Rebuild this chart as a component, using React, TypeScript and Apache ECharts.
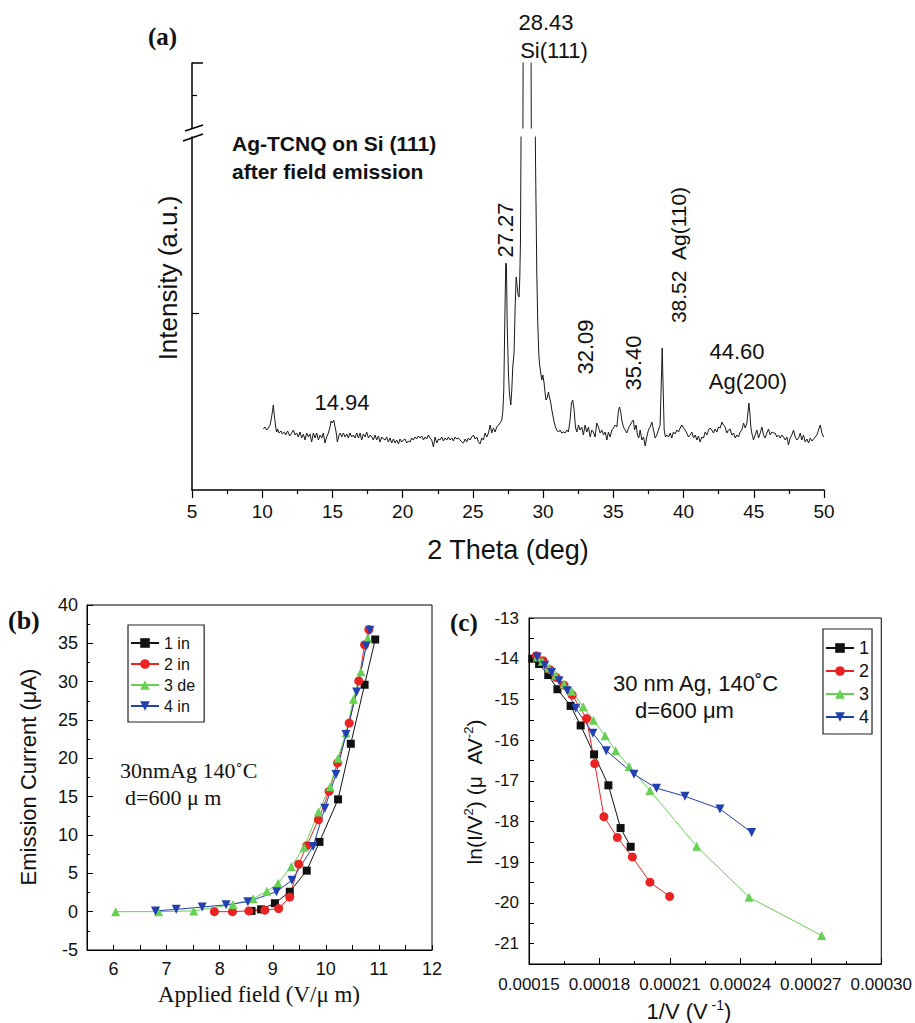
import React, { useEffect, useRef } from 'react';
import * as echarts from 'echarts';

// ---------- Panel (a): XRD pattern, [2θ (deg), intensity (a.u.)] ----------
const xrdLowAngle: [number, number][] = [
  [10.08,61],[10.20,63],[10.32,60],[10.44,62],[10.56,65],[10.67,73],[10.79,85],[10.86,75],[10.96,63],[11.03,58],
  [11.10,61],[11.20,57],[11.34,59],[11.43,56],[11.58,58],[11.67,55],[11.81,59],[11.96,54],[12.10,57],[12.22,60],
  [12.34,55],[12.45,57],[12.57,53],[12.69,58],[12.81,52],[12.93,56],[13.05,50],[13.17,57],[13.29,53],[13.40,56],
  [13.52,48],[13.64,57],[13.76,52],[13.88,57],[14.00,50],[14.12,55],[14.24,52],[14.35,57],[14.47,47],[14.59,53],
  [14.71,57],[14.83,63],[14.90,69],[14.99,67],[15.09,70],[15.19,63],[15.26,58],[15.35,48],[15.47,55],[15.56,57],
  [15.66,53],[15.78,57],[15.90,53],[16.02,56],[16.13,52],[16.25,57],[16.37,53],[16.49,55],[16.61,52],[16.73,57],
  [16.85,52],[16.97,57],[17.08,50],[17.20,56],[17.32,53],[17.44,58],[17.56,52],[17.68,55],[17.80,53],[17.91,50],
  [18.03,55],[18.15,50],[18.27,54],[18.39,48],[18.51,53],[18.63,51],[18.75,50],[18.86,53],[18.98,48],[19.10,52],
  [19.22,47],[19.34,51],[19.46,47],[19.58,50],[19.70,46],[19.81,51],[19.93,48],[20.05,50],
];
const xrdMidAngle: [number, number][] = [
  [20.17,51],[20.29,47],[20.41,49],[20.53,48],[20.65,52],[20.76,50],[20.88,53],[21.00,51],[21.12,54],[21.24,52],
  [21.36,54],[21.48,50],[21.60,53],[21.71,51],[21.83,55],[21.95,52],[22.07,50],[22.19,43],[22.31,53],[22.43,47],
  [22.55,51],[22.66,50],[22.78,53],[22.90,49],[23.02,52],[23.14,50],[23.26,53],[23.38,50],[23.50,52],[23.61,49],
  [23.73,53],[23.85,51],[23.97,52],[24.09,50],[24.21,48],[24.33,47],[24.45,51],[24.56,48],[24.68,52],[24.80,50],
  [24.92,53],[25.04,55],[25.16,51],[25.28,53],[25.39,48],[25.51,46],[25.63,52],[25.75,50],[25.87,57],[25.99,53],
  [26.11,57],[26.23,65],[26.34,57],[26.46,62],[26.58,58],[26.70,63],[26.82,65],[26.94,67],[27.06,70],
];
const xrdSiRegion: [number, number][] = [
  [27.13,78],[27.20,100],[27.27,167],[27.34,227],[27.39,225],[27.44,167],[27.53,117],[27.60,97],[27.70,85],[27.77,100],
  [27.84,123],[27.93,137],[28.01,183],[28.08,213],[28.12,208],[28.22,195],[28.29,193],[28.34,213],[28.39,250],[28.42,330],
  [28.45,400],[28.56,550],[28.58,1000],[29.14,1000],[29.16,550],[29.42,400],[29.46,330],[29.55,217],[29.62,167],[29.69,137],
  [29.74,127],[29.83,117],[29.91,110],[29.98,115],[30.07,107],[30.14,97],[30.21,90],[30.31,93],[30.38,98],[30.45,93],
  [30.55,87],[30.62,80],[30.69,75],[30.78,68],[30.88,63],[30.97,60],[31.09,58],[31.21,60],[31.33,57],[31.45,58],
  [31.57,57],[31.69,60],[31.80,58],[31.92,70],[32.02,87],[32.11,90],[32.21,80],[32.30,63],[32.40,58],[32.52,65],
  [32.63,60],[32.75,63],[32.87,55],[32.99,65],[33.11,58],[33.23,63],[33.35,53],[33.47,60],[33.58,58],[33.70,53],
  [33.82,67],[33.94,63],[34.06,57],[34.18,60],[34.30,55],[34.42,58],[34.54,50],
];
const xrdAg110Region: [number, number][] = [
  [34.65,58],[34.77,53],[34.89,60],[35.01,62],[35.13,65],[35.25,63],[35.37,80],[35.44,83],[35.53,78],[35.60,70],
  [35.72,63],[35.84,60],[35.96,57],[36.08,62],[36.20,65],[36.32,68],[36.43,70],[36.51,60],[36.62,65],[36.72,55],
  [36.81,52],[36.91,60],[37.03,50],[37.15,53],[37.27,44],[37.38,53],[37.50,60],[37.62,63],[37.74,68],[37.86,60],
  [37.98,52],[38.10,55],[38.21,60],[38.33,65],[38.40,100],[38.48,142],[38.55,100],[38.62,60],[38.71,53],[38.81,55],
  [38.93,53],[39.05,57],[39.16,52],[39.28,58],[39.40,56],[39.52,60],[39.64,58],[39.76,62],[39.88,65],[40.00,62],
  [40.11,60],[40.23,57],[40.35,53],[40.47,55],[40.59,58],[40.71,52],[40.83,55],[40.95,50],[41.06,54],[41.18,48],
  [41.30,53],[41.42,52],[41.54,58],[41.66,55],[41.78,60],[41.89,62],
];
const xrdAg200Region: [number, number][] = [
  [42.01,60],[42.13,57],[42.25,61],[42.37,58],[42.49,63],[42.61,62],[42.73,68],[42.84,65],[42.96,63],[43.08,57],
  [43.20,60],[43.32,61],[43.44,55],[43.56,57],[43.68,52],[43.79,55],[43.91,53],[44.03,58],[44.15,60],[44.27,67],
  [44.39,62],[44.51,67],[44.58,77],[44.65,87],[44.72,77],[44.79,63],[44.86,57],[44.98,50],[45.10,55],[45.22,60],
  [45.34,52],[45.46,57],[45.58,63],[45.69,55],[45.81,52],[45.93,57],[46.05,61],[46.17,55],[46.29,58],[46.41,57],
  [46.52,57],[46.64,53],[46.76,55],[46.88,52],[47.00,55],[47.12,53],[47.24,50],[47.36,53],[47.47,45],[47.59,52],
  [47.71,55],[47.83,60],[47.95,53],[48.07,50],[48.19,52],[48.31,57],[48.42,50],[48.54,55],[48.66,48],[48.78,51],
  [48.90,47],[49.02,52],[49.14,49],[49.26,51],[49.37,53],[49.49,55],[49.61,60],[49.73,65],[49.85,57],[49.97,53],
];
const xrdPattern = [...xrdLowAngle, ...xrdMidAngle, ...xrdSiRegion, ...xrdAg110Region, ...xrdAg200Region];

// ---------- Panel (b): emission current vs applied field ----------
const field1 = [8.6, 8.78, 9.04, 9.32, 9.64, 9.88, 10.23, 10.47, 10.73, 10.93];
const current1 = [0.1, 0.3, 1.1, 2.6, 5.35, 9.1, 14.65, 21.9, 29.6, 35.5];
const field2 = [7.9, 8.24, 8.55, 8.85, 9.11, 9.32, 9.49, 9.64, 9.86, 10.06, 10.22, 10.44, 10.62, 10.73, 10.81];
const current2 = [0, 0, 0.1, 0.2, 0.4, 1.9, 6.2, 8.6, 12.0, 15.7, 19.4, 24.6, 30.1, 34.8, 36.8];
const field3 = [6.04, 6.85, 7.51, 8.25, 8.63, 8.89, 9.1, 9.35, 9.59, 9.86, 10.08, 10.23, 10.38, 10.52, 10.66, 10.79];
const current3 = [0, 0, 0.1, 0.95, 1.7, 2.65, 3.7, 5.9, 8.4, 13.0, 16.3, 20.0, 23.3, 27.7, 31.3, 35.65];
const field4 = [6.79, 7.18, 7.67, 8.12, 8.53, 9.07, 9.36, 9.76, 9.98, 10.19, 10.38, 10.58, 10.76, 10.83];
const current4 = [0.1, 0.3, 0.6, 0.9, 1.3, 2.6, 4.1, 8.5, 13.5, 17.9, 23.1, 28.65, 34.65, 36.7];
const legendB = ['1 in', '2 in', '3 de', '4 in'];

// ---------- Panel (c): Fowler–Nordheim plot ----------
const invV1 = [0.0001514, 0.0001543, 0.0001582, 0.0001621, 0.0001677, 0.000172, 0.0001777, 0.0001838, 0.000189, 0.0001933];
const lnIV1 = [-14.0, -14.13, -14.4, -14.75, -15.16, -15.64, -16.35, -17.11, -18.16, -18.62];
const invV2 = [0.0001531, 0.000156, 0.0001589, 0.0001616, 0.0001649, 0.0001684, 0.0001745, 0.000178, 0.0001819, 0.0001876, 0.000194, 0.0002015, 0.0002099];
const lnIV2 = [-13.93, -14.05, -14.27, -14.46, -14.65, -14.89, -15.47, -16.58, -17.88, -18.39, -18.87, -19.49, -19.84];
const invV3 = [0.0001535, 0.0001557, 0.0001585, 0.0001614, 0.0001649, 0.0001682, 0.0001731, 0.0001774, 0.0001824, 0.0001869, 0.0001926, 0.0002015, 0.0002214, 0.0002437, 0.0002746];
const lnIV3 = [-13.96, -14.06, -14.23, -14.4, -14.62, -14.8, -15.18, -15.51, -15.89, -16.26, -16.65, -17.24, -18.61, -19.86, -20.8];
const invV4 = [0.0001535, 0.0001567, 0.0001596, 0.0001628, 0.0001663, 0.0001699, 0.0001772, 0.0001829, 0.0001947, 0.0002043, 0.0002164, 0.0002313, 0.0002448];
const lnIV4 = [-13.96, -14.16, -14.34, -14.54, -14.79, -15.22, -15.83, -16.26, -16.84, -17.18, -17.38, -17.69, -18.27];
const legendC = ['1', '2', '3', '4'];

const COLORS = ['#111111', '#ea2222', '#66d152', '#2240b0'];
const SYMBOLS = ['rect', 'circle', 'triangle', 'triangle'];
const ROTATE = [0, 0, 0, 180];

const SANS = '"Liberation Sans", Arial, Helvetica, sans-serif';
const SERIF = '"Liberation Serif", "Times New Roman", serif';

const zip = (a: number[], b: number[]) => a.map((v, i) => [v, b[i]]);

function txt(text: string, x: number, y: number, font: string, align = 'center', rot = 0, fill = '#111') {
  return {
    type: 'text', x, y, rotation: rot, silent: true,
    style: { text, font, fill, align, verticalAlign: 'middle', textAlign: align, textVerticalAlign: 'middle' },
  };
}

function supText(text: string, x: number, y: number, size: number, rot = 0) {
  return {
    type: 'text', x, y, rotation: rot, silent: true,
    style: {
      text, fill: '#111', align: 'center', verticalAlign: 'middle', textAlign: 'center', textVerticalAlign: 'middle',
      font: `${size}px ${SANS}`,
      rich: {
        n: { fontSize: size, lineHeight: size + 4, fontFamily: SANS, fill: '#111' },
        s: { fontSize: Math.round(size * 0.62), lineHeight: size + 4, verticalAlign: 'top', fontFamily: SANS, fill: '#111' },
      },
    },
  };
}

const blk = { color: '#000', width: 1 };

export default function App() {
  const ref = useRef<HTMLDivElement>(null);
  useEffect(() => {
    const chart = echarts.init(ref.current!, null, { renderer: 'svg' });
    const bData = [zip(field1, current1), zip(field2, current2), zip(field3, current3), zip(field4, current4)];
    const cData = [zip(invV1, lnIV1), zip(invV2, lnIV2), zip(invV3, lnIV3), zip(invV4, lnIV4)];
    const option: any = {
      animation: false,
      backgroundColor: '#fff',
      grid: [
        { left: 192, top: 137, width: 632, height: 353 },
        { left: 192, top: 63, width: 632, height: 65 },
        { left: 87, top: 605, width: 345, height: 345, show: true, borderColor: '#000', borderWidth: 1, backgroundColor: 'transparent' },
        { left: 529, top: 618, width: 353, height: 346, show: true, borderColor: '#000', borderWidth: 1, backgroundColor: 'transparent' },
      ],
      xAxis: [
        {
          gridIndex: 0, type: 'value', min: 5, max: 50, interval: 5,
          axisLine: { onZero: false, lineStyle: { color: '#000', width: 1.5 } },
          axisTick: { inside: false, length: 8, lineStyle: { color: '#000', width: 1.2 } },
          minorTick: { show: true, splitNumber: 2, length: 4, lineStyle: { color: '#000', width: 1.2 } },
          axisLabel: { color: '#111', fontSize: 19, margin: 12, fontFamily: SANS },
          splitLine: { show: false },
        },
        { gridIndex: 1, type: 'value', min: 5, max: 50, show: false },
        {
          gridIndex: 2, type: 'value', min: 5.5, max: 12, interval: 0.5,
          axisLine: { onZero: false, lineStyle: blk },
          axisTick: { inside: true, length: 5, lineStyle: blk },
          axisLabel: {
            color: '#111', fontSize: 18, margin: 10, fontFamily: SANS,
            formatter: (v: number) => (Math.abs(v - Math.round(v)) < 1e-6 ? String(Math.round(v)) : ''),
          },
          splitLine: { show: false },
        },
        {
          gridIndex: 3, type: 'value', min: 0.00015, max: 0.0003, interval: 0.00003,
          axisLine: { onZero: false, lineStyle: blk },
          axisTick: { inside: true, length: 6, lineStyle: blk },
          minorTick: { show: true, splitNumber: 2, length: 3, lineStyle: blk },
          axisLabel: { color: '#111', fontSize: 17, margin: 12, fontFamily: SANS, formatter: (v: number) => v.toFixed(5) },
          splitLine: { show: false },
        },
      ],
      yAxis: [
        {
          gridIndex: 0, type: 'value', min: 0, max: 353,
          axisLine: { show: true, onZero: false, lineStyle: { color: '#000', width: 1.5 } },
          axisTick: { show: true, inside: true, length: 7, customValues: [177], lineStyle: { color: '#000', width: 1.2 } },
          axisLabel: { show: false },
          splitLine: { show: false },
        },
        {
          gridIndex: 1, type: 'value', min: 600, max: 900,
          axisLine: { show: true, onZero: false, lineStyle: { color: '#000', width: 1.5 } },
          axisTick: { show: true, inside: true, length: 5, customValues: [750], lineStyle: { color: '#000', width: 1.2 } },
          axisLabel: { show: false },
          splitLine: { show: false },
        },
        {
          gridIndex: 2, type: 'value', min: -5, max: 40, interval: 5,
          axisLine: { show: true, onZero: false, lineStyle: blk },
          axisTick: { show: true, inside: true, length: 6, lineStyle: blk },
          minorTick: { show: true, splitNumber: 2, length: 3, lineStyle: blk },
          axisLabel: { color: '#111', fontSize: 18, margin: 9, fontFamily: SANS },
          splitLine: { show: false },
        },
        {
          gridIndex: 3, type: 'value', min: -21.5, max: -13, interval: 0.5,
          axisLine: { show: true, onZero: false, lineStyle: blk },
          axisTick: { show: true, inside: true, length: 5, lineStyle: blk },
          axisLabel: {
            color: '#111', fontSize: 17, margin: 10, fontFamily: SANS,
            formatter: (v: number) => (Math.abs(v - Math.round(v)) < 1e-6 ? String(Math.round(v)) : ''),
          },
          splitLine: { show: false },
        },
      ],
      legend: [
        {
          data: legendB, orient: 'vertical', left: 128, top: 625, padding: [10, 9, 8, 2],
          itemWidth: 28, itemHeight: 12, itemGap: 5, selectedMode: false,
          borderColor: '#222', borderWidth: 1.2,
          textStyle: { fontSize: 16, lineHeight: 16, color: '#111', fontFamily: SANS },
        },
        {
          data: legendC, orient: 'vertical', left: 823, top: 629, padding: [10, 3, 8, 2],
          itemWidth: 28, itemHeight: 12, itemGap: 5, selectedMode: false,
          borderColor: '#222', borderWidth: 1.2,
          textStyle: { fontSize: 18, lineHeight: 16, color: '#111', fontFamily: SANS },
        },
      ],
      series: [
        {
          name: 'XRD', type: 'line', xAxisIndex: 0, yAxisIndex: 0, data: xrdPattern, symbol: 'none',
          lineStyle: { color: '#1a1a1a', width: 1 }, clip: true, silent: true,
        },
        {
          name: 'XRD upper', type: 'line', xAxisIndex: 1, yAxisIndex: 1, data: xrdPattern, symbol: 'none',
          lineStyle: { color: '#1a1a1a', width: 1 }, clip: true, silent: true,
        },
        ...legendB.map((name, i) => ({
          name, type: 'line', xAxisIndex: 2, yAxisIndex: 2, data: bData[i],
          symbol: SYMBOLS[i], symbolRotate: ROTATE[i], symbolSize: i === 0 ? 8 : 9,
          itemStyle: { color: COLORS[i] }, lineStyle: { color: COLORS[i], width: 1 }, silent: true,
        })),
        ...legendC.map((name, i) => ({
          name, type: 'line', xAxisIndex: 3, yAxisIndex: 3, data: cData[i],
          symbol: SYMBOLS[i], symbolRotate: ROTATE[i], symbolSize: i === 0 ? 8 : 9,
          itemStyle: { color: COLORS[i] }, lineStyle: { color: COLORS[i], width: 1 }, silent: true,
        })),
      ],
      graphic: [
        // panel (a)
        txt('(a)', 148, 36, `bold 25px ${SERIF}`, 'left'),
        txt('Ag-TCNQ on Si (111)', 232, 143, `bold 21px ${SANS}`, 'left'),
        txt('after field emission', 232, 171, `bold 21px ${SANS}`, 'left'),
        txt('14.94', 342, 402, `22px ${SANS}`),
        txt('28.43', 546, 22, `22px ${SANS}`),
        txt('Si(111)', 554, 50, `22px ${SANS}`),
        txt('27.27', 505, 230, `22px ${SANS}`, 'center', Math.PI / 2),
        txt('32.09', 585, 347, `22px ${SANS}`, 'center', Math.PI / 2),
        txt('35.40', 633, 363, `22px ${SANS}`, 'center', Math.PI / 2),
        txt('38.52  Ag(110)', 678, 255, `21px ${SANS}`, 'center', Math.PI / 2),
        txt('44.60', 737, 351, `22px ${SANS}`),
        txt('Ag(200)', 748, 381, `22px ${SANS}`),
        txt('Intensity (a.u.)', 168, 278, `26px ${SANS}`, 'center', Math.PI / 2),
        txt('2 Theta (deg)', 508, 550, `27px ${SANS}`),
        { type: 'line', silent: true, shape: { x1: 192, y1: 63, x2: 203, y2: 63 }, style: { stroke: '#000', lineWidth: 1.5 } },
        { type: 'line', silent: true, shape: { x1: 185, y1: 131, x2: 203, y2: 125 }, style: { stroke: '#000', lineWidth: 1.5 } },
        { type: 'line', silent: true, shape: { x1: 183, y1: 141, x2: 203, y2: 134 }, style: { stroke: '#000', lineWidth: 1.5 } },
        // panel (b)
        txt('(b)', 8, 620, `bold 26px ${SERIF}`, 'left'),
        txt('30nmAg 140˚C', 120, 770, `22px ${SERIF}`, 'left'),
        txt('d=600 μ m', 125, 797, `22px ${SERIF}`, 'left'),
        txt('Emission Current (μA)', 28, 777, `22px ${SANS}`, 'center', Math.PI / 2),
        txt('Applied field (V/μ m)', 259, 994, `23px ${SERIF}`),
        // panel (c)
        txt('(c)', 450, 622, `bold 25px ${SERIF}`, 'left'),
        txt('30 nm Ag, 140˚C', 613, 683, `22px ${SANS}`, 'left'),
        txt('d=600 μm', 635, 710, `22px ${SANS}`, 'left'),
        supText('{n|ln(I/V}{s|2}{n|) (μ  AV}{s|-2}{n|)}', 474, 792, 21, Math.PI / 2),
        supText('{n|1/V (V}{s| -1}{n|)}', 689, 1011, 22),
      ],
    };
    chart.setOption(option);
    return () => chart.dispose();
  }, []);
  return <div ref={ref} style={{ position: 'absolute', left: 0, top: 0, width: 915, height: 1023, background: '#fff' }} />;
}
